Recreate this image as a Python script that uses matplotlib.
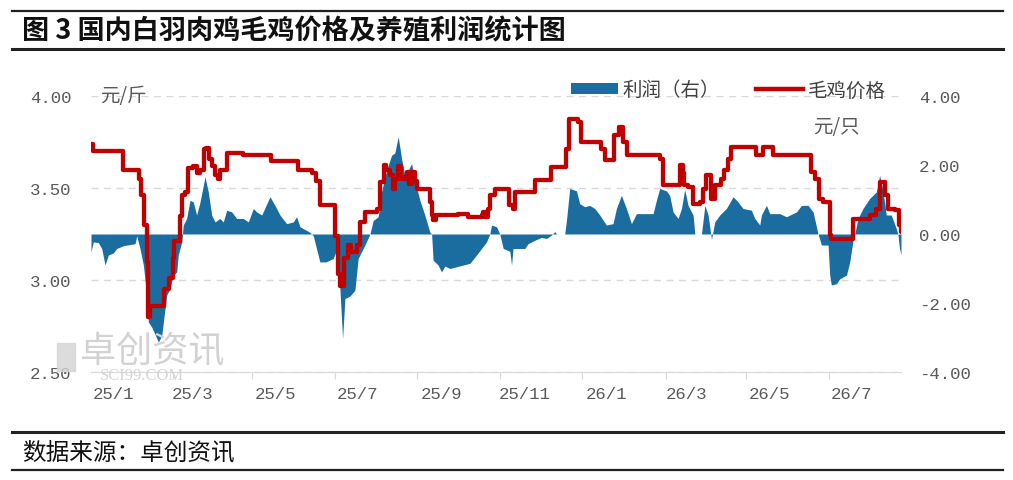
import matplotlib
matplotlib.use("Agg")
import matplotlib.pyplot as plt
from matplotlib.lines import Line2D
from matplotlib.patches import Patch, Rectangle
import pandas as pd

plt.rcParams['font.family'] = ['Noto Sans CJK SC', 'DejaVu Sans']

start = pd.Timestamp('2025-01-01')

label_months = ['2025-01-01', '2025-03-01', '2025-05-01', '2025-07-01', '2025-09-01',
                '2025-11-01', '2026-01-01', '2026-03-01', '2026-05-01', '2026-07-01']
tick_labels = ['25/1', '25/3', '25/5', '25/7', '25/9', '25/11', '26/1', '26/3', '26/5', '26/7']
tick_marks = ['2025-02-14', '2025-04-14', '2025-06-14', '2025-08-14', '2025-10-14',
              '2025-12-14', '2026-02-14', '2026-04-14', '2026-06-14']

# 毛鸡价格 (元/斤), days since 2025-01-01, value holds until next point
price_day = [-16.3, -15, 7, 19, 21, 23, 25, 26, 27.3, 38,
             41, 44, 45, 49.5, 51, 53, 55.7, 59.3, 61.8, 64,
             67, 69, 71, 73, 75.4, 77.8, 79, 84, 96.3, 117,
             137, 147, 150, 153, 164, 166, 168, 171, 174, 176,
             180, 182.5, 186, 195, 197, 200, 202, 205, 207, 208.3,
             211, 213, 216, 217, 219, 221, 223, 224.4, 234, 235.5,
             236.6, 239, 255, 262.5, 272.4, 273.6, 274.8, 277.3, 278.5, 282,
             293, 295.7, 297, 312, 324, 335.2, 337, 344, 346, 361,
             363.5, 370, 374, 377, 380, 404, 406.6, 419, 421, 422,
             425, 428.7, 433.7, 436, 438.6, 442, 444.7, 449.7, 452, 454.6,
             457, 475.6, 480.4, 487.8, 516, 518.6, 522, 524.8, 529.7, 531,
             547, 559.3, 564, 566.7, 571, 573, 578, 581, 582.7]
price_val = [3.74, 3.70, 3.60, 3.55, 3.46, 3.30, 3.10, 2.80, 2.86, 2.95,
             3.01, 3.12, 3.21, 3.35, 3.46, 3.48, 3.61, 3.62, 3.58, 3.60,
             3.71, 3.72, 3.66, 3.62, 3.57, 3.55, 3.60, 3.69, 3.68, 3.645,
             3.60, 3.58, 3.54, 3.405, 3.24, 3.03, 2.97, 3.12, 3.19, 3.15,
             3.19, 3.315, 3.37, 3.387, 3.533, 3.623, 3.60, 3.568, 3.496, 3.55,
             3.62, 3.55, 3.56, 3.587, 3.523, 3.587, 3.54, 3.496, 3.424, 3.351,
             3.324, 3.351, 3.36, 3.342, 3.351, 3.37, 3.342, 3.387, 3.46, 3.496,
             3.405, 3.387, 3.478, 3.541, 3.614, 3.714, 3.877, 3.859, 3.75, 3.714,
             3.65, 3.786, 3.831, 3.75, 3.677, 3.66, 3.514, 3.623, 3.58, 3.514,
             3.505, 3.415, 3.424, 3.496, 3.568, 3.44, 3.514, 3.55, 3.596, 3.659,
             3.723, 3.677, 3.723, 3.677, 3.587, 3.55, 3.44, 3.424, 3.242, 3.224,
             3.333, 3.351, 3.387, 3.533, 3.46, 3.387, 3.378, 3.30, 3.261]

# 养殖利润 (元/只)
profit_day = [-16.3, -14.6, -10.9, -8.4, -5.9, -3.5, 0.2, 2.7, 7.6, 16.3,
              17.5, 19.9, 22.4, 24.9, 26.1, 28.6, 33.5, 36.0, 37.2, 39.7,
              42.1, 44.5, 47.1, 48.2, 50.8, 51.9, 54.4, 56.9, 59.3, 61.8,
              64.3, 68.0, 70.4, 72.9, 75.4, 79.0, 81.5, 84.0, 87.7, 91.4,
              96.3, 100.0, 103.7, 106.2, 109.9, 116.0, 119.7, 123.4, 128.3, 133.2,
              135.7, 138.2, 145.5, 148.0, 152.9, 157.4, 162.8, 165.3, 167.7, 169.7,
              171.4, 175.1, 178.8, 181.2, 186.2, 189.9, 192.3, 196.0, 198.5, 202.2,
              205.9, 208.3, 210.8, 213.3, 215.7, 218.2, 220.7, 223.1, 226.8, 230.5,
              234.2, 235.5, 236.6, 240.3, 242.8, 245.3, 249.0, 258.8, 263.8, 268.7,
              272.4, 276.1, 278.5, 279.8, 283.5, 285.9, 288.4, 293.3, 294.6, 295.7,
              304.4, 306.8, 313.0, 316.7, 320.4, 324.1, 326.6, 327.8, 333.9, 335.2,
              337.6, 342.6, 345.0, 348.7, 352.4, 356.1, 359.8, 364.7, 369.6, 372.1,
              375.8, 379.5, 383.2, 386.9, 399.2, 401.7, 404.1, 409.1, 411.5, 414.0,
              417.7, 420.2, 422.6, 425.1, 428.8, 430.1, 435.0, 437.5, 439.9, 442.4,
              444.8, 448.5, 453.4, 458.4, 462.0, 465.7, 471.9, 474.4, 478.1, 479.3,
              483.0, 485.5, 492.9, 497.8, 505.2, 508.9, 513.8, 517.5, 521.2, 523.7,
              528.6, 529.8, 531.0, 534.8, 537.2, 542.2, 544.6, 547.0, 548.3, 550.7,
              554.4, 559.3, 564.3, 566.7, 569.2, 571.6, 575.3, 579.0, 580.2, 581.4,
              582.5]
profit_val = [-0.52, -0.23, -0.25, -0.42, -0.90, -0.61, -0.55, -0.42, -0.34, -0.28,
              -0.05, -0.42, -0.90, -1.77, -2.55, -2.70, -3.13, -2.95, -2.55, -1.77,
              -1.58, -1.19, -1.10, -0.61, -0.23, 0.26, 0.45, 0.98, 0.93, 0.55,
              0.93, 1.66, 1.22, 0.55, 0.35, 0.45, 0.35, 0.69, 0.64, 0.45,
              0.45, 0.35, 0.74, 0.64, 0.55, 1.08, 0.83, 0.55, 0.30, 0.35,
              0.50, 0.21, 0.05, -0.05, -0.81, -0.81, -0.71, -0.45, -1.58, -3.03,
              -1.87, -1.80, -1.63, -0.71, -0.32, 0.0, 0.39, 0.50, 1.22, 1.85,
              2.28, 2.35, 2.82, 2.19, 1.70, 1.85, 2.04, 1.56, 0.98, 0.55,
              0.05, 0.0, -0.76, -0.90, -1.10, -0.93, -1.00, -0.90, -0.85, -0.61,
              -0.42, -0.23, 0.0, 0.26, 0.21, 0.0, -0.42, -0.50, -0.90, -0.42,
              -0.42, -0.28, -0.16, -0.10, -0.13, -0.03, 0.07, 0.0, 0.0, 0.40,
              1.32, 1.25, 0.88, 0.79, 0.83, 0.74, 0.55, 0.26, 0.30, 0.74,
              1.12, 0.74, 0.30, 0.59, 0.59, 0.98, 1.32, 1.25, 1.12, 0.64,
              0.45, 0.74, 1.29, 0.83, 0.55, 0.0, 0.0, 0.83, 0.55, -0.16,
              0.35, 0.55, 0.74, 1.08, 0.93, 0.74, 0.69, 0.45, 0.26, 0.55,
              0.83, 0.59, 0.59, 0.50, 0.64, 0.83, 0.83, 0.64, 0.0, -0.32,
              -0.32, -1.19, -1.48, -1.44, -1.30, -1.19, -0.81, -0.20, 0.0, 0.45,
              0.74, 1.03, 1.22, 1.70, 1.25, 0.55, 0.55, 0.16, 0.0, -0.42,
              -0.60]

left_ticks = [2.5, 3.0, 3.5, 4.0]
right_ticks = [-4, -2, 0, 2, 4]

blue = '#1b6d9f'
red = '#c00000'
grey = '#595959'
tick_font = 'Liberation Mono'


def day(s):
    return (pd.Timestamp(s) - start).days


fig = plt.figure(figsize=(10.13, 4.81), dpi=100)
ax = fig.add_axes([91 / 1013, 108 / 481, 810 / 1013, 276 / 481])

ax.set_xlim(-16.3, 582.5)
ax.set_ylim(2.5, 4.0)
ax.set_yticks(left_ticks, labels=['%.2f' % v for v in left_ticks], fontfamily=tick_font)
ax.yaxis.grid(True, color='#d9d9d9', linestyle=(0, (5, 4)), linewidth=1)
ax.set_axisbelow(True)
ax.tick_params(axis='y', length=0, pad=14, labelcolor=grey, labelsize=12.5)

ax.set_xticks([day(t) for t in tick_marks], labels=[])
ax.set_xticks([day(m) for m in label_months], labels=tick_labels, minor=True,
              fontfamily=tick_font)
ax.tick_params(axis='x', which='major', length=5, color='#d9d9d9')
ax.tick_params(axis='x', which='minor', length=0, pad=10, labelcolor=grey, labelsize=12.5)

# 利润 on the right axis
axp = ax.twinx()
axp.set_ylim(-4, 4)
axp.fill_between(profit_day, 0, profit_val, color=blue, linewidth=0)
axp.set_yticks(right_ticks, labels=['%.2f' % v for v in right_ticks], fontfamily=tick_font)
axp.tick_params(axis='y', length=0, pad=13, labelcolor=grey, labelsize=12.5)

# 毛鸡价格 drawn on top
axl = ax.twinx()
axl.set_ylim(2.5, 4.0)
axl.step(price_day, price_val, where='post', color=red, linewidth=3.1,
         solid_joinstyle='round', solid_capstyle='round')
axl.set_yticks([])

for a in (ax, axp, axl):
    for s in a.spines.values():
        s.set_visible(False)
ax.spines['bottom'].set_visible(True)
ax.spines['bottom'].set_color('#d9d9d9')

fig.text(100 / 1013, 1 - 97 / 481, '元/斤', fontsize=14, color=grey, va='center')
fig.text(813 / 1013, 1 - 128 / 481, '元/只', fontsize=14, color=grey, va='center')

handles = [Patch(facecolor=blue, label='利润（右）'),
           Line2D([], [], color=red, linewidth=3.2, label='毛鸡价格')]
fig.legend(handles=handles, loc='center', bbox_to_anchor=(0.719, 0.811), ncol=2,
           frameon=False, fontsize=14, handlelength=2.4, handleheight=0.45,
           handletextpad=0.25, columnspacing=1.85, labelcolor='#404040')

# watermark
fig.add_artist(Rectangle((57 / 1013, 1 - 372 / 481), 18 / 1013, 28 / 481,
                         transform=fig.transFigure, color='#d4d4d4', alpha=0.8))
fig.text(80 / 1013, 1 - 352 / 481, '卓创资讯', fontsize=26, color='#d2d2d2', va='center')
fig.text(100 / 1013, 1 - 376 / 481, 'SCI99.COM', fontsize=12, color='#d5d5d5',
         va='center', fontfamily='Liberation Serif')

# title and source frame
for y, lw in ((12, 1.6), (50, 2.2), (433, 2.2), (471, 1.6)):
    fig.add_artist(Line2D([12 / 1013, 1003 / 1013], [1 - y / 481, 1 - y / 481],
                          transform=fig.transFigure, color='#222222', linewidth=lw))
fig.text(22 / 1013, 1 - 31 / 481, '图 3 国内白羽肉鸡毛鸡价格及养殖利润统计图',
         fontsize=19.5, fontweight='bold', va='center', ha='left', color='#111111')
fig.text(22 / 1013, 1 - 453 / 481, '数据来源：卓创资讯', fontsize=17, va='center',
         color='#111111')

fig.savefig('out.png', dpi=100, facecolor='white')
